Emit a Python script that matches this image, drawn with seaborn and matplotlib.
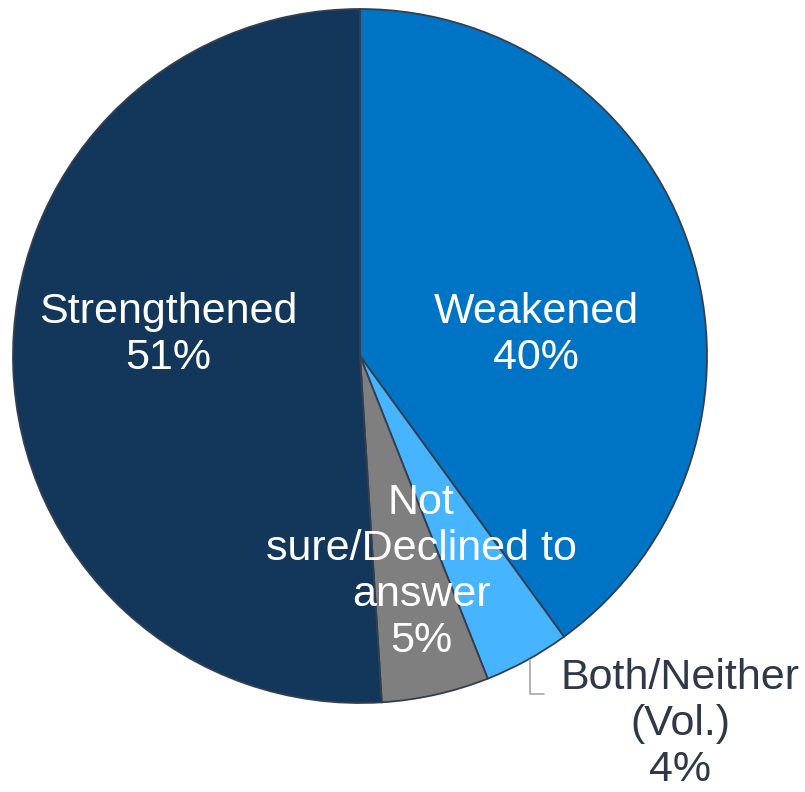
import matplotlib
matplotlib.use("Agg")
import matplotlib.pyplot as plt
import seaborn as sns

categories = ["Weakened", "Both/Neither (Vol.)", "Not sure/Declined to answer", "Strengthened"]
values = [40, 4, 5, 51]
colors = ["#0074C4", "#47B4FF", "#7F7F7F", "#12375A"]
labels = ["Weakened\n40%", "Both/Neither\n(Vol.)\n4%", "Not\nsure/Declined to\nanswer\n5%", "Strengthened\n51%"]

sns.set_theme(style="white")
plt.rcParams["font.family"] = ["Liberation Sans", "DejaVu Sans"]

W, H = 805, 792
fig = plt.figure(figsize=(W / 100, H / 100), dpi=100)
ax = fig.add_axes([0, 0, 1, 1])

cx, cy, r = 360, H - 356, 347
ax.pie(values, colors=colors, startangle=90, counterclock=False,
       center=(cx, cy), radius=r, frame=True,
       wedgeprops=dict(edgecolor="#333F50", linewidth=1.3))
ax.set_xlim(0, W)
ax.set_ylim(0, H)
ax.set_aspect("equal")
ax.axis("off")

fs = 31
ls = 1.2
ax.text(536, H - 335, labels[0], color="white", fontsize=fs, ha="center", va="center", linespacing=ls)
ax.text(168, H - 335, labels[3], color="white", fontsize=fs, ha="center", va="center", linespacing=ls)
ax.text(421, H - 572, labels[2], color="white", fontsize=fs, ha="center", va="center", linespacing=ls)
ax.text(680, H - 724, labels[1], color="#2E3846", fontsize=fs, ha="center", va="center", linespacing=ls)

# leader line for the small slice
ax.plot([530, 530, 544], [H - 660, H - 694, H - 694], color="#A6A6A6", linewidth=1.2)

fig.savefig("out.png", dpi=100)
